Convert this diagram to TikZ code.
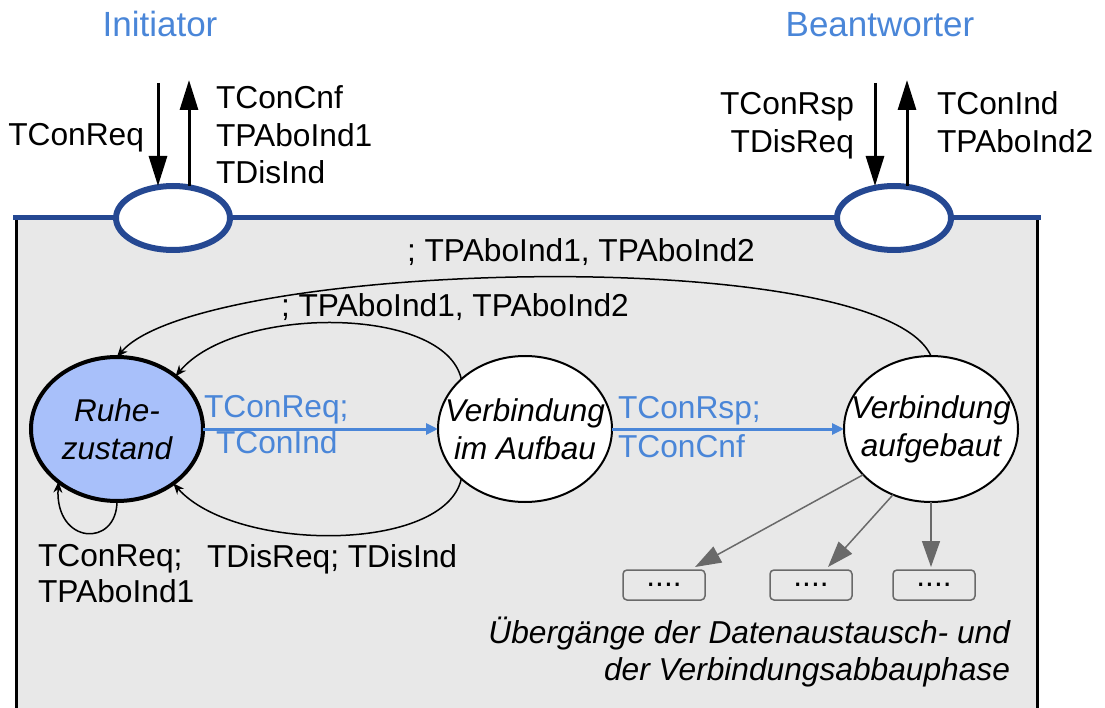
\documentclass[tikz,border=0pt]{standalone}
\usepackage{fontspec}
\setmainfont{Liberation Sans}
\usetikzlibrary{arrows.meta,shapes.geometric}
\definecolor{titleblue}{RGB}{74,134,216}
\definecolor{portblue}{RGB}{37,72,146}
\definecolor{ruhefill}{RGB}{168,192,250}
\definecolor{bggray}{RGB}{232,232,232}
\definecolor{arrgray}{RGB}{105,105,105}
\begin{document}
\begin{tikzpicture}[x=1pt,y=-1pt,
  every node/.style={inner sep=0pt, outer sep=0pt, font=\fontsize{31.7}{38}\selectfont},
  lbl/.style={anchor=base west},
  lblr/.style={anchor=base east},
  title/.style={anchor=base, text=titleblue, font=\fontsize{35}{40}\selectfont},
  state/.style={ellipse, draw, line width=2pt, fill=white, minimum width=174pt, minimum height=146pt},
  statetext/.style={align=center, font=\fontsize{31.5}{38}\selectfont\itshape},
  port/.style={ellipse, draw=portblue, line width=6pt, fill=white, minimum width=114pt, minimum height=64pt},
  bigarrow/.style={line width=3pt, -{Triangle[length=30pt,width=18pt]}},
  curve/.style={line width=1.5pt, -{Stealth[length=11pt,width=9pt]}},
  bluearrow/.style={draw=titleblue, line width=3pt, -{Triangle[length=12pt,width=11pt]}},
  grayarrow/.style={draw=arrgray, line width=1.5pt, -{Triangle[length=26pt,width=18pt]}},
  dotbox/.style={draw=arrgray, rounded corners=4pt, line width=1.5pt, minimum width=82pt, minimum height=30pt},
  caption/.style={anchor=base east, font=\fontsize{31.7}{38}\selectfont\itshape}]
\useasboundingbox (0,0) rectangle (1105,708);
% background box
\fill[bggray] (15,218) rectangle (1038,712);
\draw[line width=3pt] (16.5,218) -- (16.5,712);
\draw[line width=3pt] (1037,218) -- (1037,712);
\draw[portblue, line width=5pt] (13,218) -- (1041,218);
% ports
\node[port] (pi) at (173,218) {};
\node[port] (pb) at (894,218) {};
% titles
\node[title] (tinit) at (160,37) {Initiator};
\node[title] (tbeant) at (880,37) {Beantworter};
% port arrows
\coordinate (ia) at (158,83);
\coordinate (ib) at (189,80);
\coordinate (ra) at (875,83);
\coordinate (rb) at (907,80);
\draw[bigarrow] (ia) -- (ia |- pi.north);
\draw[bigarrow] (ib |- pi.north) -- (ib);
\draw[bigarrow] (ra) -- (ra |- pb.north);
\draw[bigarrow] (rb |- pb.north) -- (rb);
% port labels
\node[lblr] (l1) at (144,146) {TConReq};
\node[lbl] (l2) at (216,109) {TConCnf};
\node[lbl] (l3) at (216,147) {TPAboInd1};
\node[lbl] (l4) at (216,184) {TDisInd};
\node[lblr] (l5) at (854,115) {TConRsp};
\node[lblr] (l6) at (854,153) {TDisReq};
\node[lbl] (l7) at (937,115) {TConInd};
\node[lbl] (l8) at (937,153) {TPAboInd2};
% states
\node[state, line width=4pt, fill=ruhefill, minimum width=172pt, minimum height=144pt] (ruhe) at (117,429) {};
\node[statetext] (ruhetext) at (ruhe) {Ruhe-\\zustand};
\node[state] (aufbau) at (525,429) {};
\node[statetext] (aufbautext) at (aufbau) {Verbindung\\im Aufbau};
\node[state] (aufgebaut) at (931,429) {};
\node[statetext] (aufgebauttext) at (aufgebaut) {Verbindung\\aufgebaut};
% blue transitions
\draw[bluearrow] (ruhe) -- (aufbau);
\draw[bluearrow] (aufbau) -- (aufgebaut);
\node[lbl, text=titleblue] (b1l) at (204,417) {TConReq;};
\node[lbl, text=titleblue] (b2l) at (216,453) {TConInd};
\node[lbl, text=titleblue] (b3l) at (618,418) {TConRsp;};
\node[lbl, text=titleblue] (b4l) at (618,457) {TConCnf};
% curves back to Ruhezustand
\draw[curve] (aufgebaut.north) .. controls (880,242) and (200,260) .. (ruhe.north);
\draw[curve] (aufbau.142) .. controls (445,305) and (235,305) .. (ruhe.42);
\draw[curve] (aufbau.218) .. controls (445,553) and (235,553) .. (ruhe.316);
\draw[curve] (ruhe.south) .. controls (117,548) and (55,545) .. (ruhe.222);
\node[lbl] (c1) at (407,262) {; TPAboInd1, TPAboInd2};
\node[lbl] (c2) at (281,317) {; TPAboInd1, TPAboInd2};
\node[lbl] (c3) at (207,567) {TDisReq; TDisInd};
\node[lbl] (c4) at (38,566) {TConReq;};
\node[lbl] (c5) at (38,602) {TPAboInd1};
% boxes
\node[dotbox] (bx1) at (664,585) {....};
\node[dotbox] (bx2) at (811,585) {....};
\node[dotbox] (bx3) at (934,585) {....};
\coordinate (t1) at (695,567);
\coordinate (t2) at (828,567);
\coordinate (t3) at (931,567);
\draw[grayarrow] (aufgebaut.214) -- (t1);
\draw[grayarrow] (aufgebaut.240) -- (t2);
\draw[grayarrow] (aufgebaut.south) -- (t3);
% caption
\node[caption] (cap1) at (1010,643) {Übergänge der Datenaustausch- und};
\node[caption] (cap2) at (1010,680) {der Verbindungsabbauphase};
\end{tikzpicture}
\end{document}
